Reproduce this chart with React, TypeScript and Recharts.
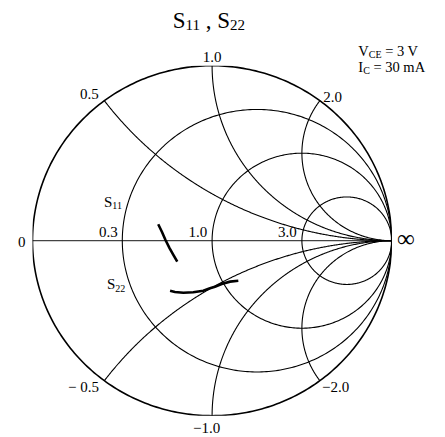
import React from 'react';
import { ScatterChart, Scatter, XAxis, YAxis, Customized } from 'recharts';

// Smith chart grid values
const resistanceValues = [1 / 3, 1, 3];
const reactanceValues = [0.5, 1, 2, -0.5, -1, -2];

// Traces (reflection coefficient, real / imaginary)
const s11Re = [-0.300, -0.279, -0.2595, -0.237, -0.215, -0.194];
const s11Im = [0.094, 0.050, 0.004, -0.042, -0.082, -0.120];
const s22Re = [-0.234, -0.207, -0.160, -0.105, -0.049, -0.012, 0.016, 0.0535, 0.100, 0.146];
const s22Im = [-0.286, -0.293, -0.297, -0.295, -0.286, -0.272, -0.263, -0.247, -0.234, -0.229];

// Tick labels
const resistanceLabels = ['0', '0.3', '1.0', '3.0', '∞'];
const reactanceLabels = ['0.5', '1.0', '2.0', '− 0.5', '−1.0', '−2.0'];

const FONT = '"Liberation Serif", "Times New Roman", serif';

type P = { x: number; y: number };

function circlePoints(cx: number, cy: number, rad: number, n = 360): P[] {
  const pts: P[] = [];
  for (let i = 0; i <= n; i++) {
    const a = (2 * Math.PI * i) / n;
    pts.push({ x: cx + rad * Math.cos(a), y: cy + rad * Math.sin(a) });
  }
  return pts;
}

function reactancePoints(xv: number, n = 400): P[] {
  const pts: P[] = [];
  for (let i = 0; i < n; i++) {
    const r = Math.tan((i / n) * (Math.PI / 2));
    const d = (r + 1) * (r + 1) + xv * xv;
    pts.push({ x: (r * r - 1 + xv * xv) / d, y: (2 * xv) / d });
  }
  pts.push({ x: 1, y: 0 });
  return pts;
}

const zip = (a: number[], b: number[]): P[] => a.map((v, i) => ({ x: v, y: b[i] }));

const Empty = () => <g />;

const Labels = () => (
  <g fontFamily={FONT} fill="#000">
    <text x={172.7} y={27.7} fontSize={23}>
      S<tspan fontSize={15} dy={2.5}>11</tspan>
      <tspan fontSize={23} dy={-2.5}> , S</tspan>
      <tspan fontSize={15} dy={2.5}>22</tspan>
    </text>
    <text x={358.3} y={55.7} fontSize={14.5}>
      V<tspan fontSize={10} dy={2.5}>CE</tspan>
      <tspan dy={-2.5}> = 3 V</tspan>
    </text>
    <text x={358.3} y={71.7} fontSize={14.5}>
      I<tspan fontSize={10} dy={2.5}>C</tspan>
      <tspan dy={-2.5}> = 30 mA</tspan>
    </text>
    <text x={18} y={246.7} fontSize={15}>{resistanceLabels[0]}</text>
    <text x={99} y={237.3} fontSize={15}>{resistanceLabels[1]}</text>
    <text x={188.5} y={237.3} fontSize={15}>{resistanceLabels[2]}</text>
    <text x={278} y={237.3} fontSize={15}>{resistanceLabels[3]}</text>
    <text x={397} y={246.5} fontSize={25}>{resistanceLabels[4]}</text>
    <text x={80} y={99} fontSize={15}>{reactanceLabels[0]}</text>
    <text x={202.7} y={61.5} fontSize={15}>{reactanceLabels[1]}</text>
    <text x={323.3} y={101.5} fontSize={15}>{reactanceLabels[2]}</text>
    <text x={68} y={391.7} fontSize={15}>{reactanceLabels[3]}</text>
    <text x={193} y={432.7} fontSize={15}>{reactanceLabels[4]}</text>
    <text x={322} y={391.7} fontSize={15}>{reactanceLabels[5]}</text>
    <text x={104} y={206.7} fontSize={15}>
      S<tspan fontSize={10} dy={2.5}>11</tspan>
    </text>
    <text x={107} y={289} fontSize={15}>
      S<tspan fontSize={10} dy={2.5}>22</tspan>
    </text>
  </g>
);

export default function App() {
  const outer = circlePoints(0, 0, 1);
  const axis = [{ x: -1, y: 0 }, { x: 1, y: 0 }];
  return (
    <div style={{ position: 'absolute', left: 0, top: 0 }}>
      <ScatterChart
        width={445}
        height={437}
        margin={{ top: 65.7, right: 53.3, bottom: 21.3, left: 32.5 }}
      >
        <XAxis type="number" dataKey="x" domain={[-1, 1]} hide allowDataOverflow />
        <YAxis type="number" dataKey="y" domain={[-1, 1]} hide allowDataOverflow />
        <Scatter data={axis} line={{ stroke: '#444', strokeWidth: 1.2 }} fill="#444" shape={Empty} isAnimationActive={false} />
        {resistanceValues.map((r) => (
          <Scatter
            key={'r' + r}
            data={circlePoints(r / (1 + r), 0, 1 / (1 + r))}
            line={{ stroke: '#000', strokeWidth: 1.1 }}
            fill="#000"
            shape={Empty}
            isAnimationActive={false}
          />
        ))}
        {reactanceValues.map((xv) => (
          <Scatter
            key={'x' + xv}
            data={reactancePoints(xv)}
            line={{ stroke: '#000', strokeWidth: 1.1 }}
            fill="#000"
            shape={Empty}
            isAnimationActive={false}
          />
        ))}
        <Scatter data={outer} line={{ stroke: '#000', strokeWidth: 1.6 }} fill="#000" shape={Empty} isAnimationActive={false} />
        <Scatter data={zip(s11Re, s11Im)} line={{ stroke: '#000', strokeWidth: 2.6 }} fill="#000" shape={Empty} isAnimationActive={false} />
        <Scatter data={zip(s22Re, s22Im)} line={{ stroke: '#000', strokeWidth: 2.6 }} fill="#000" shape={Empty} isAnimationActive={false} />
        <Customized component={<Labels />} />
      </ScatterChart>
    </div>
  );
}
